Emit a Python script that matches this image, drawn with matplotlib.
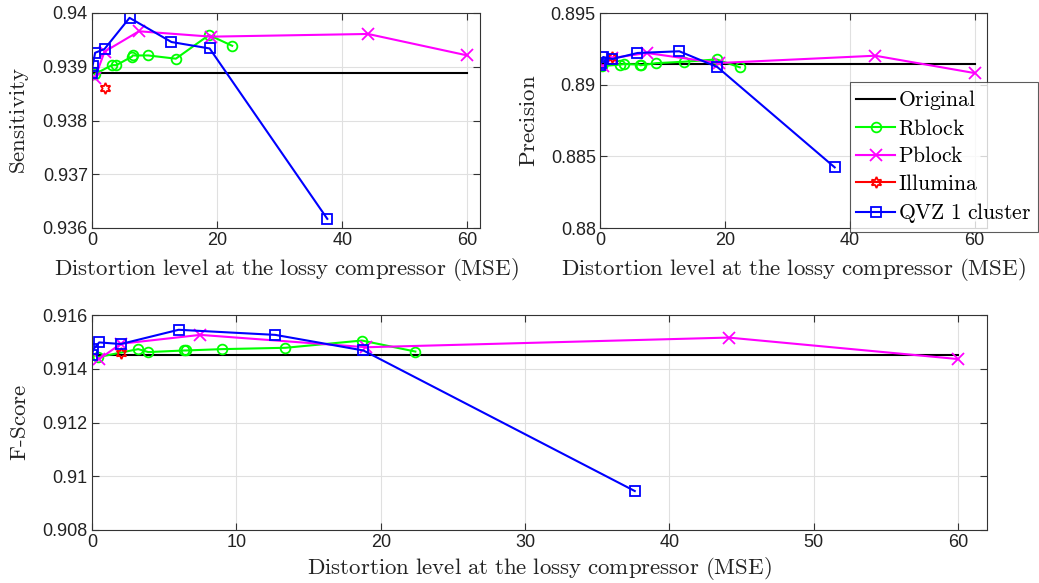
import matplotlib
matplotlib.use("Agg")
import matplotlib.pyplot as plt
from matplotlib.ticker import FuncFormatter, MultipleLocator

plt.rcParams['mathtext.fontset'] = 'cm'
plt.rcParams['font.family'] = ['Liberation Sans', 'DejaVu Sans']

# x values (MSE) per scheme
orig_x = [0, 60]
rblock_x = [0.4, 3.2, 3.9, 6.4, 6.5, 9.0, 13.4, 18.7, 22.4]
pblock_x = [0.5, 2.0, 7.5, 19.0, 44.1, 60.0]
illumina_x = [2.0]
qvz_x = [0.0, 0.1, 0.5, 2.0, 6.0, 12.7, 18.8, 37.6]

# sensitivity
sens_orig = [0.93889, 0.93889]
sens_rblock = [0.93886, 0.93903, 0.93903, 0.93919, 0.93921, 0.93921, 0.93915, 0.93959, 0.93939]
sens_pblock = [0.93880, 0.93928, 0.93966, 0.93956, 0.93961, 0.93921]
sens_illumina = [0.93861]
sens_qvz = [0.93888, 0.93902, 0.93926, 0.93933, 0.93991, 0.93946, 0.93934, 0.93617]

# precision
prec_orig = [0.89142, 0.89142]
prec_rblock = [0.89130, 0.89140, 0.89144, 0.89140, 0.89135, 0.89150, 0.89160, 0.89176, 0.89121]
prec_pblock = [0.89128, 0.89186, 0.89221, 0.89151, 0.89202, 0.89081]
prec_illumina = [0.89193]
prec_qvz = [0.89135, 0.89151, 0.89193, 0.89179, 0.89221, 0.89233, 0.89123, 0.88423]

# F-score
f_orig = [0.91453, 0.91453]
f_rblock = [0.91443, 0.91473, 0.91462, 0.91468, 0.91468, 0.91473, 0.91478, 0.91505, 0.91464]
f_pblock = [0.91436, 0.91493, 0.91526, 0.91480, 0.91516, 0.91436]
f_illumina = [0.91458]
f_qvz = [0.91452, 0.91473, 0.91498, 0.91492, 0.91545, 0.91526, 0.91468, 0.90945]

W, H = 1039, 583
fig = plt.figure(figsize=(W / 100, H / 100), dpi=100)


def box(l, t, r, b):
    return [l / W, 1 - b / H, (r - l) / W, (b - t) / H]


ax1 = fig.add_axes(box(92, 13, 480, 228))
ax2 = fig.add_axes(box(600, 13, 987, 228))
ax3 = fig.add_axes(box(92, 315, 987, 530))

xlabel = r'$\mathrm{Distortion\ level\ at\ the\ lossy\ compressor\ (MSE)}$'
hex_star = (6, 1, 0)


def draw(ax, o, rb, pb, il, qv, ylabel, ylim, step, xpad=5):
    ax.plot(orig_x, o, color='black', lw=1.5, label=r'$\mathrm{Original}$')
    ax.plot(rblock_x, rb, color='#00ff00', lw=1.5, marker='o', ms=7, mfc='none',
            mew=1.3, label=r'$\mathrm{Rblock}$')
    ax.plot(pblock_x, pb, color='#ff00ff', lw=1.5, marker='x', ms=9, mew=1.3,
            label=r'$\mathrm{Pblock}$')
    ax.plot(illumina_x, il, color='red', lw=1.5, marker=hex_star, ms=8, mfc='none',
            mew=1.3, label=r'$\mathrm{Illumina}$')
    ax.plot(qvz_x, qv, color='blue', lw=1.5, marker='s', ms=6.5, mfc='none',
            mew=1.3, label=r'$\mathrm{QVZ\ 1\ cluster}$')
    ax.set_xlim(0, 62)
    ax.set_ylim(*ylim)
    ax.yaxis.set_major_locator(MultipleLocator(step))
    ax.yaxis.set_major_formatter(FuncFormatter(lambda v, p: '{:g}'.format(round(v, 4))))
    ax.grid(True, color='#e0e0e0', lw=0.8)
    ax.set_axisbelow(True)
    ax.tick_params(direction='in', top=True, right=True, labelsize=13,
                   length=5, color='#333333', labelcolor='#222222', pad=3)
    for s in ax.spines.values():
        s.set_color('#333333')
        s.set_linewidth(0.8)
    ax.set_xlabel(xlabel, fontsize=16.5, labelpad=xpad, color='#222222')
    ax.set_ylabel(ylabel, fontsize=16.5, labelpad=8, color='#222222')


draw(ax1, sens_orig, sens_rblock, sens_pblock, sens_illumina, sens_qvz,
     r'$\mathrm{Sensitivity}$', (0.936, 0.94), 0.001)
ax1.xaxis.set_major_locator(MultipleLocator(20))
draw(ax2, prec_orig, prec_rblock, prec_pblock, prec_illumina, prec_qvz,
     r'$\mathrm{Precision}$', (0.88, 0.895), 0.005)
ax2.xaxis.set_major_locator(MultipleLocator(20))
draw(ax3, f_orig, f_rblock, f_pblock, f_illumina, f_qvz,
     r'$\mathrm{F\text{-}Score}$', (0.908, 0.916), 0.002, xpad=3)
ax3.xaxis.set_major_locator(MultipleLocator(10))

handles, labels = ax2.get_legend_handles_labels()
leg = fig.legend(handles, labels, loc='upper left', bbox_to_anchor=(850 / W, 1 - 82 / H),
                 fontsize=15.5, frameon=True, fancybox=False, borderpad=0.3,
                 handlelength=1.8, handletextpad=0.15, labelspacing=0.3,
                 borderaxespad=0)
leg.get_frame().set_edgecolor('#333333')
leg.get_frame().set_linewidth(0.8)

fig.savefig('out.png', dpi=100)
